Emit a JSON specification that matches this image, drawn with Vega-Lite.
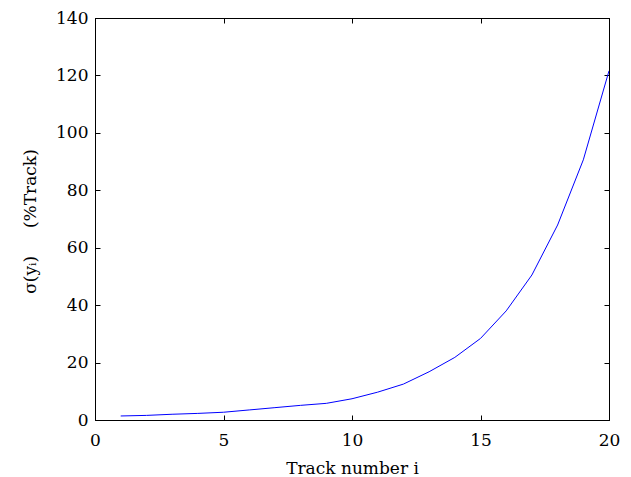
{
  "$schema": "https://vega.github.io/schema/vega-lite/v6.json",
  "width": 514,
  "height": 402,
  "autosize": {"type": "none"},
  "padding": {"left": 95, "top": 18, "right": 22, "bottom": 57},
  "background": "white",
  "config": {
    "view": {"stroke": "black", "strokeWidth": 1},
    "font": "DejaVu Serif",
    "axis": {
      "grid": false,
      "domainColor": "black",
      "tickColor": "black",
      "tickSize": -5,
      "labelFont": "DejaVu Serif",
      "titleFont": "DejaVu Serif",
      "labelFontSize": 17,
      "titleFontSize": 17,
      "labelColor": "black",
      "titleColor": "black",
      "titleFontWeight": "normal",
      "labelFlush": false,
      "labelOverlap": false
    }
  },
  "data": {
    "values": [
      {"i": 1, "s": 1.4},
      {"i": 2, "s": 1.6},
      {"i": 3, "s": 2.0},
      {"i": 4, "s": 2.3},
      {"i": 5, "s": 2.7},
      {"i": 6, "s": 3.5},
      {"i": 7, "s": 4.3},
      {"i": 8, "s": 5.1},
      {"i": 9, "s": 5.8},
      {"i": 10, "s": 7.4},
      {"i": 11, "s": 9.7},
      {"i": 12, "s": 12.5},
      {"i": 13, "s": 16.8},
      {"i": 14, "s": 21.8},
      {"i": 15, "s": 28.4},
      {"i": 16, "s": 38.0},
      {"i": 17, "s": 50.5},
      {"i": 18, "s": 67.9},
      {"i": 19, "s": 90.6},
      {"i": 20, "s": 121.6}
    ]
  },
  "layer": [
    {
      "mark": {"type": "line", "color": "#0000ff", "strokeWidth": 1, "clip": true},
      "encoding": {
        "x": {
          "field": "i", "type": "quantitative",
          "scale": {"domain": [0, 20], "nice": false, "zero": false},
          "axis": {"values": [0, 5, 10, 15, 20], "title": "Track number i", "labelPadding": 17, "titleX": 257, "titleY": 48, "titleBaseline": "middle", "titleAlign": "center"}
        },
        "y": {
          "field": "s", "type": "quantitative",
          "scale": {"domain": [0, 140], "nice": false, "zero": false},
          "axis": {"values": [0, 20, 40, 60, 80, 100, 120, 140], "title": "σ(yᵢ) \u2003 (%Track)", "labelPadding": 12, "titleX": -65, "titleY": 203, "titleAngle": -90, "titleBaseline": "middle", "titleAlign": "center"}
        }
      }
    },
    {
      "mark": {"type": "line", "opacity": 0},
      "encoding": {
        "x": {
          "field": "i", "type": "quantitative",
          "scale": {"domain": [0, 20], "nice": false, "zero": false},
          "axis": {"orient": "top", "values": [0, 5, 10, 15, 20], "labels": false, "title": null}
        },
        "y": {
          "field": "s", "type": "quantitative",
          "scale": {"domain": [0, 140], "nice": false, "zero": false},
          "axis": {"orient": "right", "values": [0, 20, 40, 60, 80, 100, 120, 140], "labels": false, "title": null}
        }
      }
    }
  ],
  "resolve": {"scale": {"x": "independent", "y": "independent"}}
}
